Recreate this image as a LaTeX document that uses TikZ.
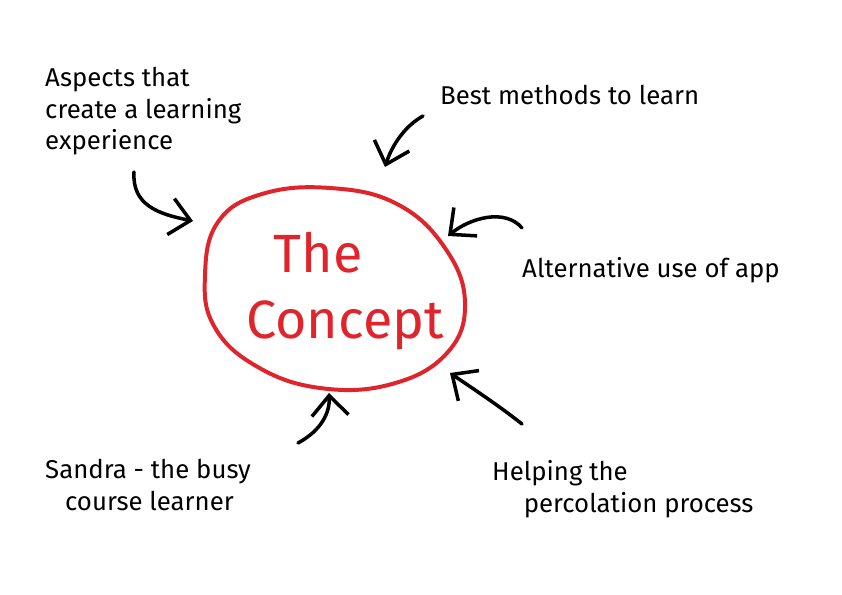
\documentclass[tikz,border=0pt]{standalone}
\usepackage{fontspec}
\setmainfont{Fira Sans}
\usetikzlibrary{arrows.meta}
\definecolor{blobred}{HTML}{E0242B}
\tikzset{
  lbl/.style={anchor=base west,inner sep=0pt,align=left,font=\fontsize{22}{27}\selectfont},
  pointer/.style={line width=3pt,line cap=round,-{Straight Barb[length=6mm,width=11mm,line width=3pt]}}
}
\begin{document}
\begin{tikzpicture}[x=0.03cm,y=-0.03cm]
  \useasboundingbox (0,0) rectangle (842,595);
  % the concept blob
  \draw[blobred,line width=3.4pt] plot[smooth cycle,tension=0.7] coordinates {(218,222) (262,194) (330,188) (397,204) (445,248) (465,303) (447,353) (392,384) (320,388) (256,366) (214,326) (205,275)};
  \node[anchor=base,text=blobred,inner sep=0pt,font=\fontsize{46}{50}\selectfont] (the) at (318,272) {The};
  \node[anchor=base,text=blobred,inner sep=0pt,font=\fontsize{46}{50}\selectfont] (concept) at (345,338) {Concept};
  % labels (base = last line)
  \node[lbl] (aspects) at (45,150) {Aspects that\\create a learning\\experience};
  \node[lbl] (methods) at (440,105) {Best methods to learn};
  \node[lbl] (altuse) at (522,277) {Alternative use of app};
  \node[lbl] (helping) at (492,512) {Helping the\\\hspace*{27pt}percolation process};
  \node[lbl] (sandra) at (45,510) {Sandra - the busy\\\hspace*{17pt}course learner};
  % arrows
  \coordinate (a1) at (134,172); \coordinate (t1) at (193,221);
  \coordinate (a2) at (423,116); \coordinate (t2) at (385,167);
  \coordinate (a3) at (522,228); \coordinate (t3) at (448,236);
  \coordinate (a4) at (522,424); \coordinate (t4) at (450,373);
  \coordinate (a5) at (298,443); \coordinate (t5) at (329,393);
  \draw[pointer] (a1) .. controls (132,205) and (158,214) .. (t1);
  \draw[pointer] (a2) .. controls (405,126) and (392,145) .. (t2);
  \draw[pointer] (a3) .. controls (505,208) and (470,218) .. (t3);
  \draw[pointer] (a4) .. controls (498,405) and (472,388) .. (t4);
  \draw[pointer] (a5) .. controls (322,430) and (330,412) .. (t5);
\end{tikzpicture}
\end{document}
